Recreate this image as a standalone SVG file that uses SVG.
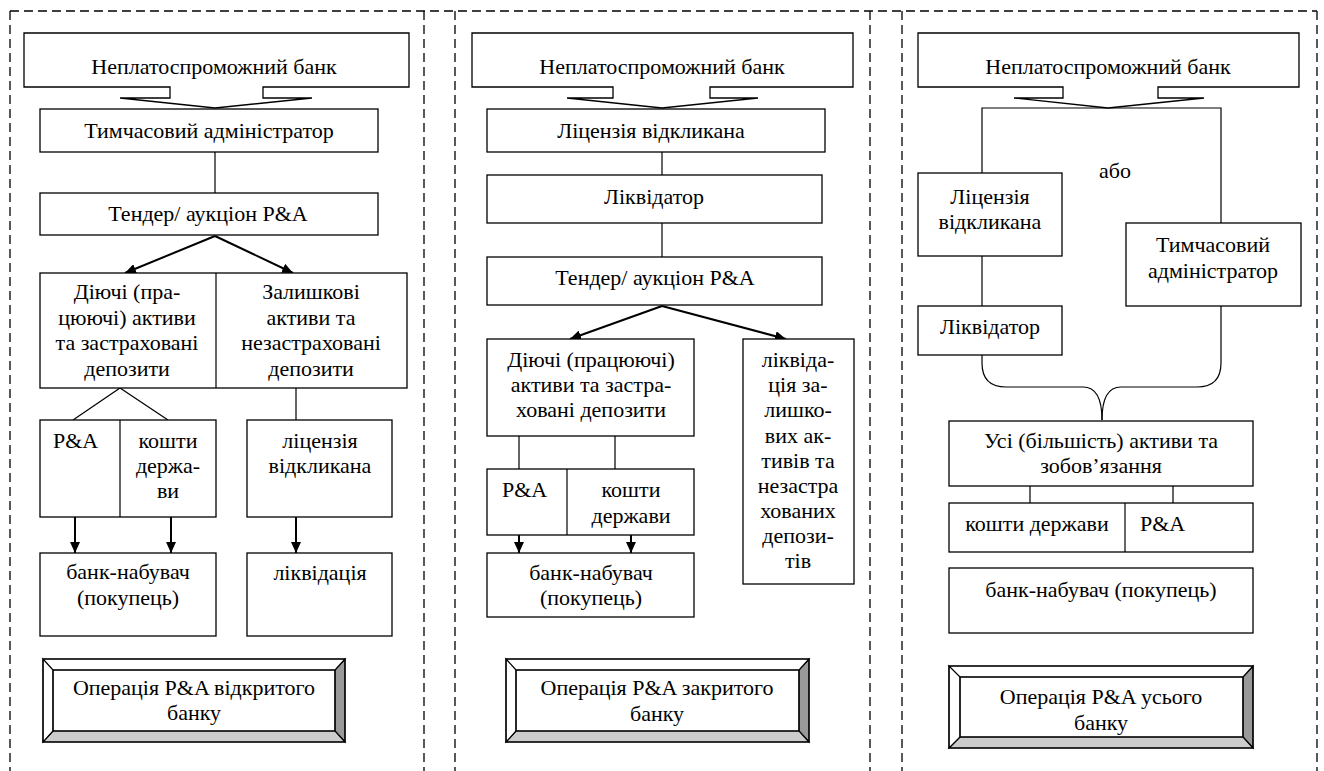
<svg xmlns="http://www.w3.org/2000/svg" width="1324" height="771" viewBox="0 0 1324 771">
<style>
.b{fill:#fff;stroke:#000;stroke-width:1.3}
.l{fill:none;stroke:#000;stroke-width:1.2}
.a{fill:none;stroke:#000;stroke-width:2;marker-end:url(#ah)}
.d{fill:none;stroke:#000;stroke-width:1.3;stroke-dasharray:9 5}
text{font-family:'Liberation Serif','Times New Roman',serif;font-size:22px;fill:#000;text-anchor:middle}
.lt{text-anchor:start}
.bv{stroke:#000;stroke-width:1.2}
</style>
<defs>
<marker id="ah" markerUnits="userSpaceOnUse" markerWidth="12" markerHeight="10" refX="11" refY="5" orient="auto">
<path d="M0,0 L11,5 L0,10 z" fill="#000"/>
</marker>
</defs>
<rect width="1324" height="771" fill="#fff"/>
<g id="frames">
<path class="d" d="M10,11 H1317"/>
<path class="d" d="M10,11 V771 M424,11 V771 M455,11 V771 M870,11 V771 M902,11 V771 M1317,11 V771"/>
</g>
<g id="connectors">
<path class="l" d="M215,152 V193"/>
<path class="a" d="M215,236 L125,273"/>
<path class="a" d="M215,236 L293,273"/>
<path class="l" d="M73,420 L120,388 L168,420"/>
<path class="l" d="M296,388 V420"/>
<path class="a" d="M75,517 V553"/>
<path class="a" d="M171,517 V553"/>
<path class="a" d="M296,517 V553"/>
<path class="l" d="M662,152 V175"/>
<path class="l" d="M662,223 V257"/>
<path class="a" d="M662,306 L570,339"/>
<path class="a" d="M662,306 L786,339"/>
<path class="l" d="M519,436 V469 M615,436 V469"/>
<path class="a" d="M519,535 V553"/>
<path class="a" d="M631,535 V553"/>
<path class="l" d="M982,173 V108 H1221 V223"/>
<path class="l" d="M982,256 V306"/>
<path class="l" d="M982,355 V363 Q982,387 1006,387 H1083 Q1102,387 1102,420"/>
<path class="l" d="M1221,306 V363 Q1221,387 1197,387 H1121 Q1102,387 1102,420"/>
<path class="l" d="M1030,486 V503 M1173,486 V503"/>
</g>
<g id="p1-bank">
<path class="b" d="M24,33 H409 V87 H263 V98 H312 L215,108 L120,98 H170 V87 H24 Z"/>
<text x="214" y="74">Неплатоспроможний банк</text>
</g>
<g id="p1-admin"><rect class="b" x="40" y="109" width="338" height="43"/><text x="209" y="138">Тимчасовий адміністратор</text></g>
<g id="p1-tender"><rect class="b" x="40" y="193" width="338" height="42"/><text x="208" y="221">Тендер/ аукціон P&amp;A</text></g>
<g id="p1-assets">
<rect class="b" x="40" y="273" width="367" height="115"/>
<path class="l" d="M216,273 V388"/>
<text x="127" y="299">Діючі (пра-</text><text x="127" y="325">цюючі) активи</text><text x="127" y="350">та застраховані</text><text x="127" y="376">депозити</text>
<text x="311" y="299">Залишкові</text><text x="311" y="325">активи та</text><text x="311" y="350">незастраховані</text><text x="311" y="376">депозити</text>
</g>
<g id="p1-split">
<rect class="b" x="40" y="420" width="176" height="97"/>
<path class="l" d="M120,420 V517"/>
<text class="lt" x="53" y="448">P&amp;A</text>
<text x="168" y="448">кошти</text><text x="168" y="473">держа-</text><text x="168" y="498">ви</text>
</g>
<g id="p1-license"><rect class="b" x="247" y="420" width="145" height="97"/><text x="320" y="448">ліцензія</text><text x="320" y="473">відкликана</text></g>
<g id="p1-buyer"><rect class="b" x="40" y="553" width="176" height="83"/><text x="128" y="579">банк-набувач</text><text x="128" y="605">(покупець)</text></g>
<g id="p1-liq"><rect class="b" x="247" y="553" width="145" height="83"/><text x="320" y="580">ліквідація</text></g>
<g id="p1-title">
<rect x="43" y="659" width="302" height="83" fill="#fff"/>
<path d="M335,670 L345,659 V742 L335,731 Z" fill="#999" class="bv"/>
<path d="M53,731 H335 L345,742 H43 Z" fill="#ccc" class="bv"/>
<path d="M43,659 H345 L335,670 H53 Z M43,659 L53,670 V731 L43,742 Z" fill="#fff" class="bv"/>
<rect x="43" y="659" width="302" height="83" fill="none" class="bv"/>
<rect x="53" y="670" width="282" height="61" fill="none" class="bv"/>
<text x="194" y="695">Операція P&amp;A відкритого</text><text x="194" y="720">банку</text>
</g>
<g id="p2-bank">
<path class="b" d="M472,33 H853 V87 H710 V98 H758 L662,108 L567,98 H613 V87 H472 Z"/>
<text x="662" y="74">Неплатоспроможний банк</text>
</g>
<g id="p2-license"><rect class="b" x="487" y="109" width="338" height="43"/><text x="651" y="138">Ліцензія відкликана</text></g>
<g id="p2-liquidator"><rect class="b" x="487" y="175" width="335" height="48"/><text x="654" y="204">Ліквідатор</text></g>
<g id="p2-tender"><rect class="b" x="487" y="257" width="335" height="48"/><text x="655" y="285">Тендер/ аукціон P&amp;A</text></g>
<g id="p2-assets"><rect class="b" x="487" y="339" width="207" height="97"/><text x="591" y="367">Діючі (працюючі)</text><text x="591" y="392">активи та застра-</text><text x="591" y="417">ховані депозити</text></g>
<g id="p2-residual"><rect class="b" x="743" y="339" width="111" height="245"/>
<text x="798" y="367">ліквіда-</text><text x="798" y="392">ція за-</text><text x="798" y="417">лишко-</text><text x="798" y="443">вих ак-</text><text x="798" y="468">тивів та</text><text x="798" y="493">незастра</text><text x="798" y="518">хованих</text><text x="798" y="543">депози-</text><text x="798" y="568">тів</text>
</g>
<g id="p2-split">
<rect class="b" x="487" y="469" width="207" height="66"/>
<path class="l" d="M567,469 V535"/>
<text class="lt" x="502" y="497">P&amp;A</text>
<text x="631" y="497">кошти</text><text x="631" y="523">держави</text>
</g>
<g id="p2-buyer"><rect class="b" x="487" y="553" width="207" height="64"/><text x="591" y="580">банк-набувач</text><text x="591" y="605">(покупець)</text></g>
<g id="p2-title">
<rect x="506" y="659" width="303" height="83" fill="#fff"/>
<path d="M799,670 L809,659 V742 L799,731 Z" fill="#999" class="bv"/>
<path d="M516,731 H799 L809,742 H506 Z" fill="#ccc" class="bv"/>
<path d="M506,659 H809 L799,670 H516 Z M506,659 L516,670 V731 L506,742 Z" fill="#fff" class="bv"/>
<rect x="506" y="659" width="303" height="83" fill="none" class="bv"/>
<rect x="516" y="670" width="283" height="61" fill="none" class="bv"/>
<text x="657" y="695">Операція P&amp;A закритого</text><text x="657" y="721">банку</text>
</g>
<g id="p3-bank">
<path class="b" d="M918,33 H1299 V87 H1158 V98 H1204 L1108,108 L1014,98 H1063 V87 H918 Z"/>
<text x="1108" y="74">Неплатоспроможний банк</text>
</g>
<g id="p3-or"><text x="1115" y="178">або</text></g>
<g id="p3-license"><rect class="b" x="918" y="173" width="144" height="83"/><text x="990" y="204">Ліцензія</text><text x="990" y="229">відкликана</text></g>
<g id="p3-liquidator"><rect class="b" x="918" y="306" width="144" height="49"/><text x="990" y="334">Ліквідатор</text></g>
<g id="p3-admin"><rect class="b" x="1126" y="223" width="175" height="83"/><text x="1213" y="252">Тимчасовий</text><text x="1213" y="278">адміністратор</text></g>
<g id="p3-assets"><rect class="b" x="949" y="421" width="304" height="65"/><text x="1101" y="448">Усі (більшість) активи та</text><text x="1101" y="473">зобов’язання</text></g>
<g id="p3-split">
<rect class="b" x="949" y="503" width="304" height="49"/>
<path class="l" d="M1125,503 V552"/>
<text x="1037" y="531">кошти держави</text>
<text class="lt" x="1140" y="531">P&amp;A</text>
</g>
<g id="p3-buyer"><rect class="b" x="949" y="568" width="304" height="65"/><text x="1101" y="597">банк-набувач (покупець)</text></g>
<g id="p3-title">
<rect x="949" y="666" width="304" height="82" fill="#fff"/>
<path d="M1243,677 L1253,666 V748 L1243,737 Z" fill="#999" class="bv"/>
<path d="M960,737 H1243 L1253,748 H949 Z" fill="#ccc" class="bv"/>
<path d="M949,666 H1253 L1243,677 H960 Z M949,666 L960,677 V737 L949,748 Z" fill="#fff" class="bv"/>
<rect x="949" y="666" width="304" height="82" fill="none" class="bv"/>
<rect x="960" y="677" width="283" height="60" fill="none" class="bv"/>
<text x="1101" y="704">Операція P&amp;A усього</text><text x="1101" y="730">банку</text>
</g>
</svg>
